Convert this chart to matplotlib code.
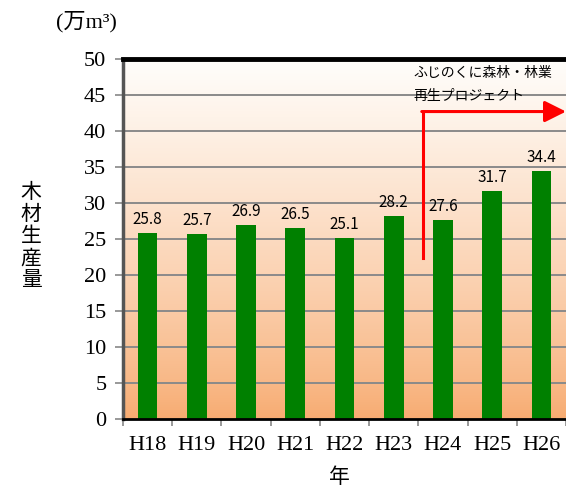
import numpy as np
import matplotlib.pyplot as plt

plt.rcParams['font.family'] = ['Liberation Serif', 'Noto Sans CJK JP']

years = ['H18', 'H19', 'H20', 'H21', 'H22', 'H23', 'H24', 'H25', 'H26']
output = [25.8, 25.7, 26.9, 26.5, 25.1, 28.2, 27.6, 31.7, 34.4]

fig = plt.figure(figsize=(5.66, 4.92), dpi=100)
ax = fig.add_axes([0.2173, 0.1484, 0.7827, 0.7317])

x = np.arange(len(years))

# gradient background, orange at bottom to white at top
grad = np.linspace(0, 1, 256).reshape(-1, 1)
top = np.array([1.0, 0.995, 0.985])
bot = np.array([0.97, 0.67, 0.44])
img = bot + (top - bot) * grad[..., None] ** 0.8
ax.imshow(img, extent=(-0.5, 8.5, 0, 50), origin='lower', aspect='auto', zorder=0)

for v in range(5, 50, 5):
    ax.axhline(v, color='#8a8a8a', lw=1.4, zorder=1)

ax.bar(x, output, width=0.4, color='#008000', zorder=2)
for xi, v in zip(x, output):
    ax.text(xi, v + 0.7, f'{v:.1f}', ha='center', va='bottom', fontsize=11,
            family=['Noto Sans CJK JP'], zorder=3)

# red arrow for the project start
ax.plot([5.6, 5.6], [22.4, 42.7], color='red', lw=2.2, zorder=3)
ax.annotate('', xy=(8.5, 42.7), xytext=(5.57, 42.7),
            arrowprops=dict(arrowstyle='-|>,head_length=1.3,head_width=0.65',
                            color='red', lw=2.2, shrinkA=0, shrinkB=0),
            zorder=3, annotation_clip=False)
ax.text(5.4, 46.5, 'ふじのくに森林・林業\n再生プロジェクト', fontsize=10,
        family=['Noto Sans CJK JP'], va='center', ha='left', linespacing=1.8, zorder=3)

ax.set_xlim(-0.5, 8.5)
ax.set_ylim(0, 50)
ax.set_yticks(range(0, 51, 5))
ax.set_xticks(x)
ax.set_xticklabels(years)
ax.set_xticks(np.arange(-0.5, 9, 1), minor=True)
ax.tick_params(axis='x', which='major', length=0, pad=12, labelsize=16)
ax.tick_params(axis='x', which='minor', length=5, color='#888888', width=1.2)
ax.tick_params(axis='y', length=6, color='#888888', width=1.2, labelsize=16, pad=6)

ax.spines['left'].set_color('#555555')
ax.spines['left'].set_linewidth(2.5)
ax.spines['bottom'].set_linewidth(2)
ax.spines['top'].set_linewidth(3.5)
ax.spines['right'].set_visible(False)

fig.text(0.055, 0.52, '\n'.join('木材生産量'), fontsize=15, ha='center', va='center',
         family=['Noto Sans CJK JP'], linespacing=1.0)
fig.text(0.152, 0.955, '(万m³)', fontsize=16, ha='center', va='center')
fig.text(0.6, 0.03, '年', fontsize=15, ha='center', va='center',
         family=['Noto Sans CJK JP'])

plt.savefig('out.png', dpi=100)
